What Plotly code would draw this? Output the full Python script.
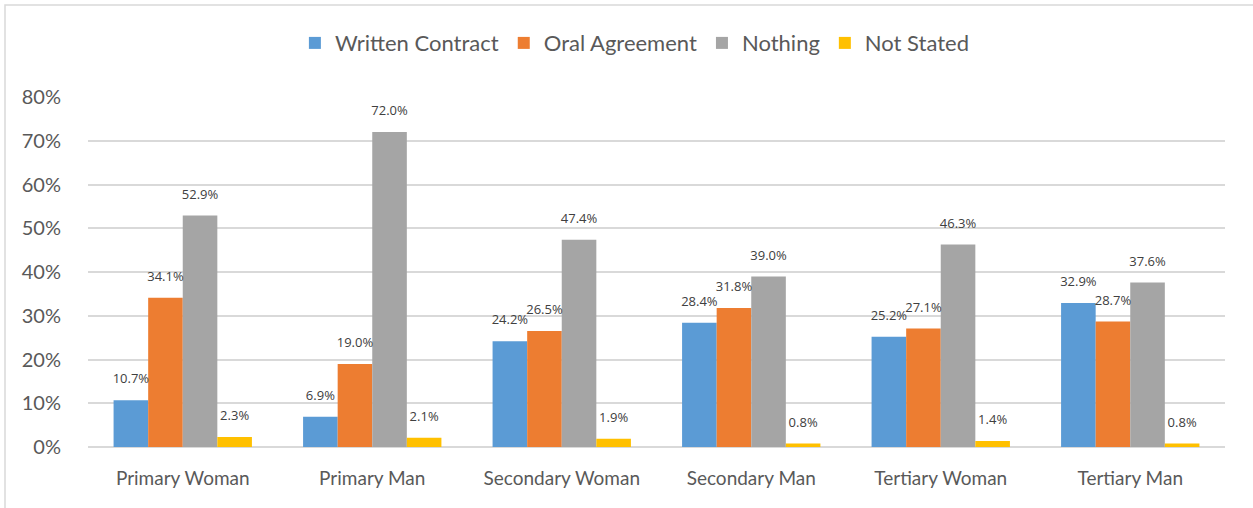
import plotly.graph_objects as go

# 카테고리 / 시리즈
categories = ["Primary Woman", "Primary Man", "Secondary Woman",
              "Secondary Man", "Tertiary Woman", "Tertiary Man"]
written_contract = [10.7, 6.9, 24.2, 28.4, 25.2, 32.9]
oral_agreement = [34.1, 19.0, 26.5, 31.8, 27.1, 28.7]
nothing = [52.9, 72.0, 47.4, 39.0, 46.3, 37.6]
not_stated = [2.3, 2.1, 1.9, 0.8, 1.4, 0.8]

y_ticks = [0, 10, 20, 30, 40, 50, 60, 70, 80]
y_tick_labels = ["0%", "10%", "20%", "30%", "40%", "50%", "60%", "70%", "80%"]

series = [
    ("Written Contract", written_contract, "#5B9BD5"),
    ("Oral Agreement", oral_agreement, "#ED7D31"),
    ("Nothing", nothing, "#A5A5A5"),
    ("Not Stated", not_stated, "#FFC000"),
]

FONT = "Lato, Calibri, sans-serif"

fig = go.Figure()

for name, values, color in series:
    fig.add_trace(go.Bar(
        x=categories,
        y=values,
        name=name,
        offsetgroup=name,
        marker=dict(color=color, line=dict(width=0)),
    ))

# 데이터 레이블 (막대 위쪽, 그룹 오프셋 맞춤)
for name, values, color in series:
    fig.add_trace(go.Scatter(
        x=categories,
        y=values,
        mode="markers+text",
        offsetgroup=name,
        text=[f"{v:.1f}%" for v in values],
        textposition="top center",
        textfont=dict(size=13, color="#404040", family="Open Sans, sans-serif"),
        marker=dict(size=20, opacity=0),
        showlegend=False,
        hoverinfo="skip",
        cliponaxis=False,
    ))

# 차트 테두리
fig.add_shape(
    type="rect", xref="paper", yref="paper",
    x0=-0.073, x1=1.2, y0=-0.5, y1=1.263,
    line=dict(color="#D9D9D9", width=1.5),
    fillcolor="rgba(0,0,0,0)", layer="below",
)

fig.update_layout(
    width=1253,
    height=508,
    margin=dict(l=88, r=28, t=97, b=61, autoexpand=False),
    barmode="group",
    bargap=0.27,
    bargroupgap=0,
    scattermode="group",
    scattergap=0.27,
    plot_bgcolor="white",
    paper_bgcolor="white",
    font=dict(family=FONT, color="#595959"),
    legend=dict(
        orientation="h",
        x=0.481, xanchor="center",
        y=1.154, yanchor="middle",
        font=dict(size=22, color="#595959"),
        itemwidth=30,
        traceorder="normal",
    ),
    xaxis=dict(
        automargin=False,
        tickfont=dict(size=19, color="#595959"),
        showgrid=False,
        showline=False,
        ticks="outside",
        ticklen=14,
        tickcolor="rgba(0,0,0,0)",
    ),
    yaxis=dict(
        automargin=False,
        range=[0, 80],
        tickvals=y_ticks,
        ticktext=y_tick_labels,
        tickfont=dict(size=20, color="#595959"),
        showgrid=True,
        gridcolor="#D9D9D9",
        gridwidth=1.5,
        zeroline=True,
        zerolinecolor="#D9D9D9",
        zerolinewidth=1.5,
        ticks="outside",
        ticklen=22,
        tickcolor="rgba(0,0,0,0)",
    ),
)

# 페이지 기본 여백 제거, 모드바 숨김
fig.write_html(
    "out.html",
    config={"displayModeBar": False},
    post_script="document.body.style.margin='0';",
)
